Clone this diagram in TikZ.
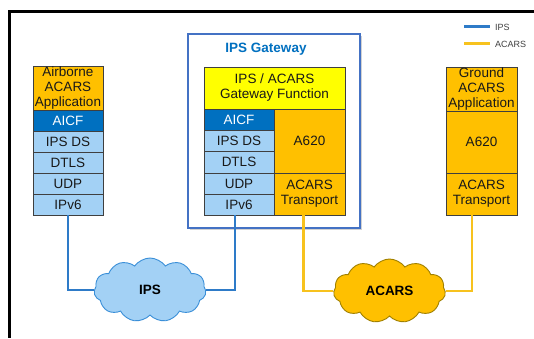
\documentclass[tikz,border=0pt]{standalone}
\usepackage{fontspec}
\setmainfont{Liberation Sans}
\usetikzlibrary{shapes.symbols,shadows}
\definecolor{orng}{HTML}{FFC000}
\definecolor{aicf}{HTML}{0070C0}
\definecolor{lblue}{HTML}{A3D1F5}
\definecolor{ylw}{HTML}{FFFF00}
\definecolor{gwb}{HTML}{4472C4}
\definecolor{ipsline}{HTML}{2E7BC8}
\definecolor{acline}{HTML}{F7C21E}
\definecolor{cloudb}{HTML}{3A8FD8}
\definecolor{cloudo}{HTML}{A08000}
\definecolor{bord}{HTML}{3F3F3F}
\tikzset{
  layer/.style={draw=bord, line width=0.8pt, inner sep=0pt, align=center,
    font=\fontsize{13.5}{15}\selectfont, text=black!90},
  lb/.style={layer, fill=lblue, minimum width=70pt, minimum height=21pt},
  aicfbox/.style={layer, fill=aicf, text=white, minimum width=70pt, minimum height=21pt},
  ob/.style={layer, fill=orng, minimum width=71pt},
  ipsconn/.style={draw=ipsline, line width=2.6pt},
  acconn/.style={draw=acline, line width=2.6pt},
  cloudbox/.style={cloud, cloud puffs=11, cloud puff arc=110, aspect=1.75,
    inner sep=0pt, minimum width=112pt, minimum height=64pt, line width=0.9pt,
    font=\bfseries\fontsize{13.5}{15}\selectfont},
  legtext/.style={anchor=west, inner sep=0pt, font=\fontsize{9}{10}\selectfont, text=black!75},
}
\begin{document}
\begin{tikzpicture}[x=1pt,y=-1pt]
\useasboundingbox (0,0) rectangle (534,338);
\fill[white] (0,0) rectangle (534,338);
% frame
\draw[line width=3pt, black] (534,11) -- (9.5,11) -- (9.5,338);

% legend
\coordinate (l1a) at (464,26); \coordinate (l1b) at (490,26);
\coordinate (l2a) at (464,43); \coordinate (l2b) at (490,43);
\draw[ipsconn, line width=3pt] (l1a) -- (l1b);
\draw[acconn, line width=3pt] (l2a) -- (l2b);
\node[legtext] (legips) at (495,27) {IPS};
\node[legtext] (legacars) at (495,44) {ACARS};

% left stack
\node[layer, fill=orng, minimum width=70pt, minimum height=44pt] (aapp) at (68,88) {Airborne\\ACARS\\Application};
\node[aicfbox] (aaicf) at (68,120.5) {AICF};
\node[lb] (aipsds) at (68,141.5) {IPS DS};
\node[lb] (adtls) at (68,162.5) {DTLS};
\node[lb] (audp) at (68,183.5) {UDP};
\node[lb] (aipv6) at (68,204.5) {IPv6};

% gateway
\node[draw=gwb, line width=1.6pt, fill=white, drop shadow={shadow xshift=1.5pt, shadow yshift=-1.5pt, opacity=0.35},
  minimum width=172pt, minimum height=194pt, inner sep=0pt] (gw) at (274,131) {};
\node[font=\bfseries\fontsize{13.5}{15}\selectfont, text=aicf, inner sep=0pt] (gwtitle) at (266,49) {IPS Gateway};
\node[layer, fill=ylw, minimum width=141pt, minimum height=42pt] (gwfun) at (274.5,88) {IPS / ACARS\\Gateway Function};
\node[aicfbox] (gaicf) at (239,119.5) {AICF};
\node[lb, minimum height=21.5pt] (gipsds) at (239,140.75) {IPS DS};
\node[lb, minimum height=21.5pt] (gdtls) at (239,162.25) {DTLS};
\node[lb] (gudp) at (239,183.5) {UDP};
\node[lb] (gipv6) at (239,204.5) {IPv6};
\node[ob, minimum height=64pt] (ga620) at (309.5,141) {A620};
\node[ob, minimum height=42pt] (gtrans) at (309.5,194) {ACARS\\Transport};

% ground stack
\node[layer, fill=orng, minimum width=71pt, minimum height=44pt] (gapp) at (481.5,89) {Ground\\ACARS\\Application};
\node[ob, minimum height=62pt] (ra620) at (481.5,142) {A620};
\node[ob, minimum height=42pt] (rtrans) at (481.5,194) {ACARS\\Transport};

% clouds
\node[cloudbox, draw=cloudb, fill=lblue] (ipscloud) at (150,290) {IPS};
\node[cloudbox, draw=cloudo, fill=orng] (acarscloud) at (389.5,291) {ACARS};

% connectors
\draw[ipsconn] (aipv6.south) |- (ipscloud.west);
\draw[ipsconn] ([xshift=-4pt]gipv6.south) |- (ipscloud.east);
\draw[acconn] ([xshift=-6pt]gtrans.south) |- (acarscloud.west);
\draw[acconn] ([xshift=-9.5pt]rtrans.south) |- (acarscloud.east);
\end{tikzpicture}
\end{document}
